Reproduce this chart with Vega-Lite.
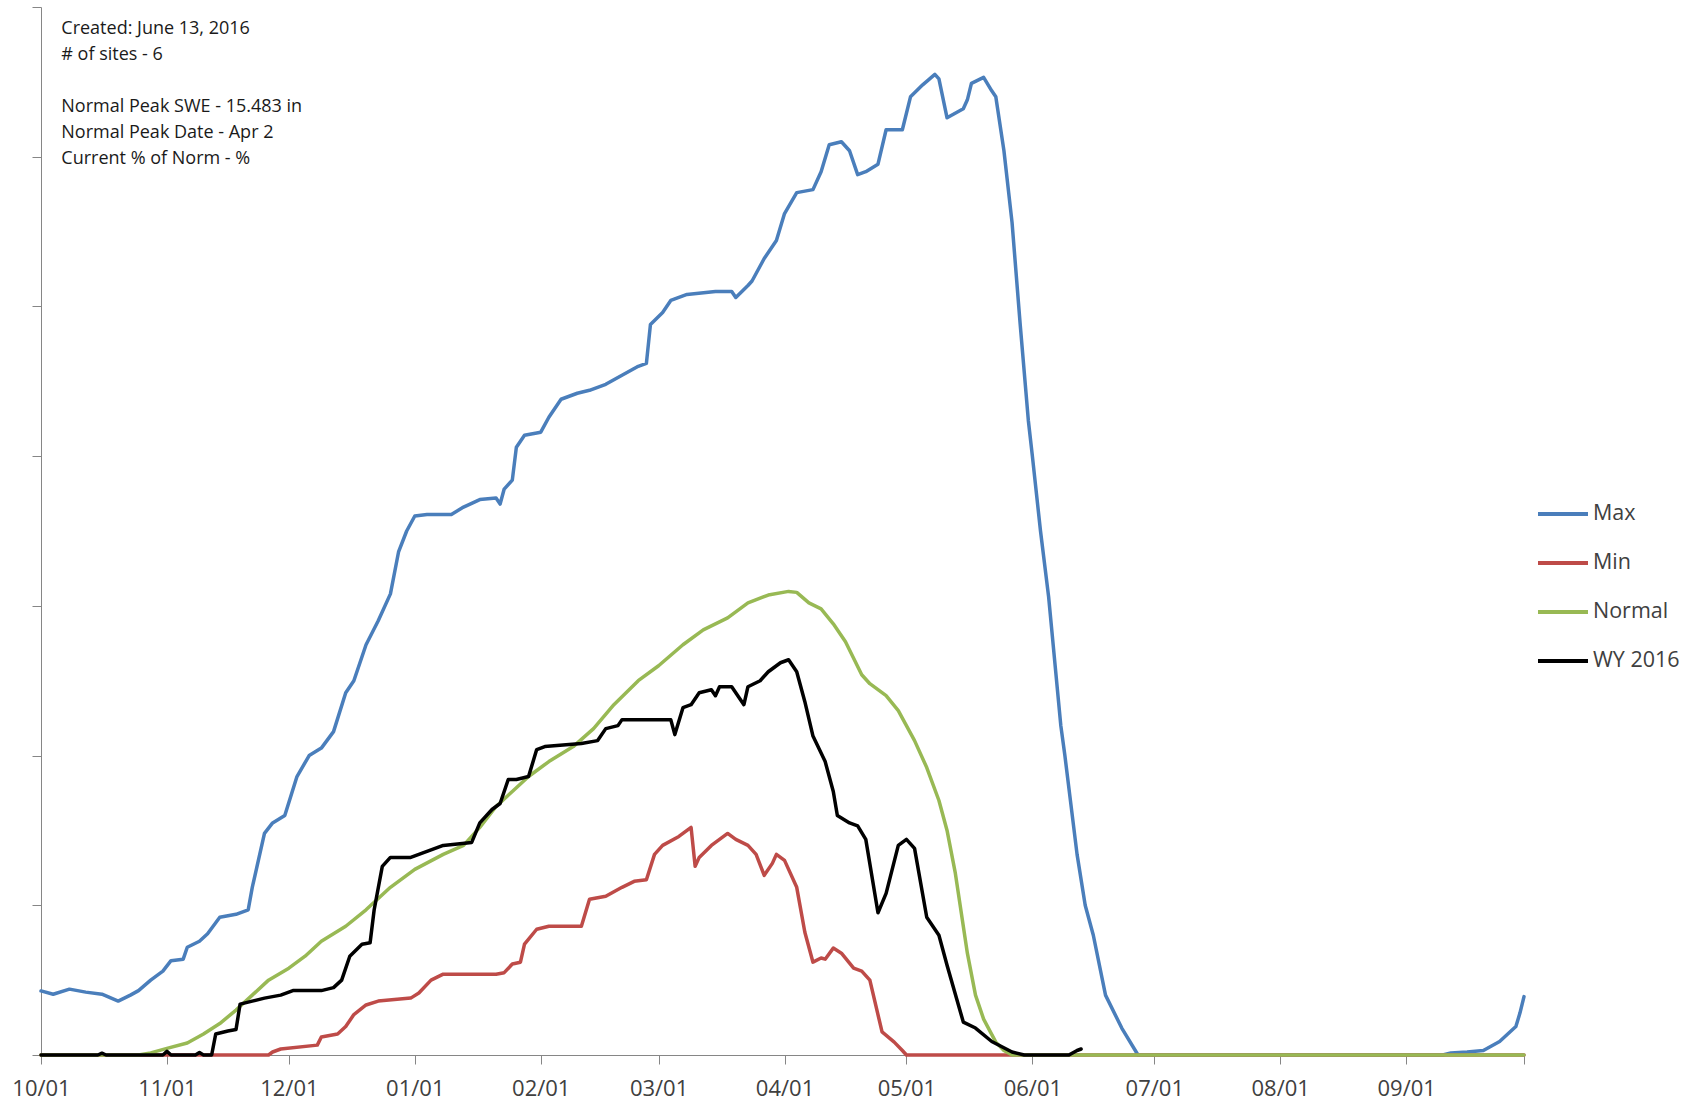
{
"$schema": "https://vega.github.io/schema/vega-lite/v6.json",
"width": 1483, "height": 1048,
"autosize": {"type": "none"},
"padding": {"left": 41, "top": 7, "right": 174, "bottom": 53},
"background": "white",
"config": {"view": {"stroke": null}, "font": "Open Sans"},
"datasets": {
"notes": [
{"date": "2015-10-06", "swe": 34.28, "label": "Created: June 13, 2016"},
{"date": "2015-10-06", "swe": 33.41, "label": "# of sites - 6"},
{"date": "2015-10-06", "swe": 31.67, "label": "Normal Peak SWE - 15.483 in"},
{"date": "2015-10-06", "swe": 30.8, "label": "Normal Peak Date - Apr 2"},
{"date": "2015-10-06", "swe": 29.93, "label": "Current % of Norm - %"}
],
"swe": [
{"date":"2015-10-01","series":"Max","swe":2.14},{"date":"2015-10-04","series":"Max","swe":2.03},{"date":"2015-10-08","series":"Max","swe":2.2},{"date":"2015-10-12","series":"Max","swe":2.1},{"date":"2015-10-16","series":"Max","swe":2.03},{"date":"2015-10-20","series":"Max","swe":1.8},{"date":"2015-10-23","series":"Max","swe":2.0},{"date":"2015-10-25","series":"Max","swe":2.15},{"date":"2015-10-28","series":"Max","swe":2.5},{"date":"2015-10-31","series":"Max","swe":2.8},
{"date":"2015-11-02","series":"Max","swe":3.15},{"date":"2015-11-05","series":"Max","swe":3.2},{"date":"2015-11-06","series":"Max","swe":3.6},{"date":"2015-11-09","series":"Max","swe":3.8},{"date":"2015-11-11","series":"Max","swe":4.05},{"date":"2015-11-14","series":"Max","swe":4.6},{"date":"2015-11-18","series":"Max","swe":4.7},{"date":"2015-11-21","series":"Max","swe":4.85},{"date":"2015-11-22","series":"Max","swe":5.6},{"date":"2015-11-25","series":"Max","swe":7.4},{"date":"2015-11-27","series":"Max","swe":7.75},{"date":"2015-11-30","series":"Max","swe":8.0},
{"date":"2015-12-03","series":"Max","swe":9.3},{"date":"2015-12-06","series":"Max","swe":10.0},{"date":"2015-12-09","series":"Max","swe":10.25},{"date":"2015-12-12","series":"Max","swe":10.8},{"date":"2015-12-15","series":"Max","swe":12.1},{"date":"2015-12-17","series":"Max","swe":12.5},{"date":"2015-12-20","series":"Max","swe":13.7},{"date":"2015-12-23","series":"Max","swe":14.5},{"date":"2015-12-26","series":"Max","swe":15.4},{"date":"2015-12-28","series":"Max","swe":16.8},{"date":"2015-12-30","series":"Max","swe":17.5},
{"date":"2016-01-01","series":"Max","swe":18.0},{"date":"2016-01-04","series":"Max","swe":18.05},{"date":"2016-01-10","series":"Max","swe":18.05},{"date":"2016-01-13","series":"Max","swe":18.3},{"date":"2016-01-17","series":"Max","swe":18.55},{"date":"2016-01-21","series":"Max","swe":18.6},{"date":"2016-01-22","series":"Max","swe":18.4},{"date":"2016-01-23","series":"Max","swe":18.9},{"date":"2016-01-25","series":"Max","swe":19.2},{"date":"2016-01-26","series":"Max","swe":20.3},{"date":"2016-01-28","series":"Max","swe":20.7},
{"date":"2016-02-01","series":"Max","swe":20.8},{"date":"2016-02-03","series":"Max","swe":21.3},{"date":"2016-02-06","series":"Max","swe":21.9},{"date":"2016-02-10","series":"Max","swe":22.1},{"date":"2016-02-13","series":"Max","swe":22.2},{"date":"2016-02-17","series":"Max","swe":22.4},{"date":"2016-02-21","series":"Max","swe":22.7},{"date":"2016-02-25","series":"Max","swe":23.0},{"date":"2016-02-27","series":"Max","swe":23.1},{"date":"2016-02-28","series":"Max","swe":24.4},
{"date":"2016-03-02","series":"Max","swe":24.8},{"date":"2016-03-04","series":"Max","swe":25.2},{"date":"2016-03-08","series":"Max","swe":25.4},{"date":"2016-03-15","series":"Max","swe":25.5},{"date":"2016-03-19","series":"Max","swe":25.5},{"date":"2016-03-20","series":"Max","swe":25.3},{"date":"2016-03-23","series":"Max","swe":25.7},{"date":"2016-03-24","series":"Max","swe":25.85},{"date":"2016-03-27","series":"Max","swe":26.6},{"date":"2016-03-30","series":"Max","swe":27.2},
{"date":"2016-04-01","series":"Max","swe":28.1},{"date":"2016-04-04","series":"Max","swe":28.8},{"date":"2016-04-08","series":"Max","swe":28.9},{"date":"2016-04-10","series":"Max","swe":29.5},{"date":"2016-04-12","series":"Max","swe":30.4},{"date":"2016-04-15","series":"Max","swe":30.5},{"date":"2016-04-17","series":"Max","swe":30.2},{"date":"2016-04-19","series":"Max","swe":29.4},{"date":"2016-04-21","series":"Max","swe":29.5},{"date":"2016-04-24","series":"Max","swe":29.75},{"date":"2016-04-26","series":"Max","swe":30.9},{"date":"2016-04-30","series":"Max","swe":30.9},
{"date":"2016-05-02","series":"Max","swe":32.0},{"date":"2016-05-05","series":"Max","swe":32.4},{"date":"2016-05-08","series":"Max","swe":32.75},{"date":"2016-05-09","series":"Max","swe":32.6},{"date":"2016-05-11","series":"Max","swe":31.3},{"date":"2016-05-15","series":"Max","swe":31.6},{"date":"2016-05-16","series":"Max","swe":31.9},{"date":"2016-05-17","series":"Max","swe":32.45},{"date":"2016-05-20","series":"Max","swe":32.65},{"date":"2016-05-22","series":"Max","swe":32.2},{"date":"2016-05-23","series":"Max","swe":32.0},{"date":"2016-05-25","series":"Max","swe":30.2},{"date":"2016-05-27","series":"Max","swe":27.8},{"date":"2016-05-29","series":"Max","swe":24.4},{"date":"2016-05-31","series":"Max","swe":21.2},
{"date":"2016-06-01","series":"Max","swe":20.0},{"date":"2016-06-03","series":"Max","swe":17.5},{"date":"2016-06-05","series":"Max","swe":15.3},{"date":"2016-06-08","series":"Max","swe":11.0},{"date":"2016-06-09","series":"Max","swe":10.0},{"date":"2016-06-12","series":"Max","swe":6.7},{"date":"2016-06-14","series":"Max","swe":5.0},{"date":"2016-06-16","series":"Max","swe":4.0},{"date":"2016-06-19","series":"Max","swe":2.0},{"date":"2016-06-23","series":"Max","swe":0.9},{"date":"2016-06-27","series":"Max","swe":0},
{"date":"2016-09-10","series":"Max","swe":0},{"date":"2016-09-12","series":"Max","swe":0.07},{"date":"2016-09-16","series":"Max","swe":0.1},{"date":"2016-09-20","series":"Max","swe":0.15},{"date":"2016-09-22","series":"Max","swe":0.3},{"date":"2016-09-24","series":"Max","swe":0.45},{"date":"2016-09-26","series":"Max","swe":0.7},{"date":"2016-09-28","series":"Max","swe":0.95},{"date":"2016-09-29","series":"Max","swe":1.4},{"date":"2016-09-30","series":"Max","swe":1.95},

{"date":"2015-10-01","series":"Min","swe":0},{"date":"2015-11-26","series":"Min","swe":0},{"date":"2015-11-27","series":"Min","swe":0.1},{"date":"2015-11-29","series":"Min","swe":0.2},{"date":"2015-12-08","series":"Min","swe":0.33},{"date":"2015-12-09","series":"Min","swe":0.6},{"date":"2015-12-13","series":"Min","swe":0.7},{"date":"2015-12-15","series":"Min","swe":0.95},{"date":"2015-12-17","series":"Min","swe":1.35},{"date":"2015-12-20","series":"Min","swe":1.67},{"date":"2015-12-23","series":"Min","swe":1.8},{"date":"2015-12-31","series":"Min","swe":1.9},
{"date":"2016-01-02","series":"Min","swe":2.07},{"date":"2016-01-05","series":"Min","swe":2.5},{"date":"2016-01-08","series":"Min","swe":2.7},{"date":"2016-01-21","series":"Min","swe":2.7},{"date":"2016-01-23","series":"Min","swe":2.75},{"date":"2016-01-25","series":"Min","swe":3.04},{"date":"2016-01-27","series":"Min","swe":3.1},{"date":"2016-01-28","series":"Min","swe":3.7},{"date":"2016-01-31","series":"Min","swe":4.2},
{"date":"2016-02-03","series":"Min","swe":4.3},{"date":"2016-02-11","series":"Min","swe":4.3},{"date":"2016-02-13","series":"Min","swe":5.2},{"date":"2016-02-17","series":"Min","swe":5.3},{"date":"2016-02-21","series":"Min","swe":5.6},{"date":"2016-02-24","series":"Min","swe":5.8},{"date":"2016-02-27","series":"Min","swe":5.85},{"date":"2016-02-29","series":"Min","swe":6.7},
{"date":"2016-03-02","series":"Min","swe":7.0},{"date":"2016-03-06","series":"Min","swe":7.3},{"date":"2016-03-07","series":"Min","swe":7.4},{"date":"2016-03-09","series":"Min","swe":7.6},{"date":"2016-03-10","series":"Min","swe":6.3},{"date":"2016-03-11","series":"Min","swe":6.6},{"date":"2016-03-14","series":"Min","swe":7.0},{"date":"2016-03-16","series":"Min","swe":7.2},{"date":"2016-03-18","series":"Min","swe":7.4},{"date":"2016-03-20","series":"Min","swe":7.2},{"date":"2016-03-23","series":"Min","swe":7.0},{"date":"2016-03-25","series":"Min","swe":6.7},{"date":"2016-03-27","series":"Min","swe":6.0},{"date":"2016-03-29","series":"Min","swe":6.4},{"date":"2016-03-30","series":"Min","swe":6.7},
{"date":"2016-04-01","series":"Min","swe":6.5},{"date":"2016-04-04","series":"Min","swe":5.6},{"date":"2016-04-06","series":"Min","swe":4.1},{"date":"2016-04-08","series":"Min","swe":3.1},{"date":"2016-04-10","series":"Min","swe":3.24},{"date":"2016-04-11","series":"Min","swe":3.2},{"date":"2016-04-13","series":"Min","swe":3.57},{"date":"2016-04-15","series":"Min","swe":3.4},{"date":"2016-04-18","series":"Min","swe":2.9},{"date":"2016-04-20","series":"Min","swe":2.8},{"date":"2016-04-22","series":"Min","swe":2.5},{"date":"2016-04-25","series":"Min","swe":0.77},{"date":"2016-04-28","series":"Min","swe":0.43},{"date":"2016-04-30","series":"Min","swe":0.15},{"date":"2016-05-01","series":"Min","swe":0},{"date":"2016-09-30","series":"Min","swe":0},

{"date":"2015-10-01","series":"Normal","swe":0},{"date":"2015-10-25","series":"Normal","swe":0},{"date":"2015-10-28","series":"Normal","swe":0.07},{"date":"2015-11-01","series":"Normal","swe":0.22},{"date":"2015-11-06","series":"Normal","swe":0.4},{"date":"2015-11-10","series":"Normal","swe":0.7},{"date":"2015-11-14","series":"Normal","swe":1.05},{"date":"2015-11-18","series":"Normal","swe":1.5},{"date":"2015-11-22","series":"Normal","swe":2.0},{"date":"2015-11-26","series":"Normal","swe":2.5},
{"date":"2015-12-01","series":"Normal","swe":2.9},{"date":"2015-12-05","series":"Normal","swe":3.3},{"date":"2015-12-09","series":"Normal","swe":3.8},{"date":"2015-12-15","series":"Normal","swe":4.3},{"date":"2015-12-20","series":"Normal","swe":4.85},{"date":"2015-12-26","series":"Normal","swe":5.6},
{"date":"2016-01-01","series":"Normal","swe":6.2},{"date":"2016-01-08","series":"Normal","swe":6.7},{"date":"2016-01-13","series":"Normal","swe":7.0},{"date":"2016-01-17","series":"Normal","swe":7.6},{"date":"2016-01-21","series":"Normal","swe":8.3},{"date":"2016-01-25","series":"Normal","swe":8.8},{"date":"2016-01-29","series":"Normal","swe":9.3},
{"date":"2016-02-03","series":"Normal","swe":9.8},{"date":"2016-02-09","series":"Normal","swe":10.3},{"date":"2016-02-14","series":"Normal","swe":10.9},{"date":"2016-02-19","series":"Normal","swe":11.7},{"date":"2016-02-25","series":"Normal","swe":12.5},
{"date":"2016-03-01","series":"Normal","swe":13.0},{"date":"2016-03-07","series":"Normal","swe":13.7},{"date":"2016-03-12","series":"Normal","swe":14.2},{"date":"2016-03-18","series":"Normal","swe":14.6},{"date":"2016-03-23","series":"Normal","swe":15.1},{"date":"2016-03-28","series":"Normal","swe":15.36},
{"date":"2016-04-02","series":"Normal","swe":15.483},{"date":"2016-04-04","series":"Normal","swe":15.45},{"date":"2016-04-07","series":"Normal","swe":15.1},{"date":"2016-04-10","series":"Normal","swe":14.9},{"date":"2016-04-13","series":"Normal","swe":14.4},{"date":"2016-04-16","series":"Normal","swe":13.8},{"date":"2016-04-20","series":"Normal","swe":12.7},{"date":"2016-04-22","series":"Normal","swe":12.4},{"date":"2016-04-26","series":"Normal","swe":12.0},{"date":"2016-04-29","series":"Normal","swe":11.5},
{"date":"2016-05-03","series":"Normal","swe":10.5},{"date":"2016-05-06","series":"Normal","swe":9.6},{"date":"2016-05-09","series":"Normal","swe":8.5},{"date":"2016-05-11","series":"Normal","swe":7.5},{"date":"2016-05-13","series":"Normal","swe":6.1},{"date":"2016-05-16","series":"Normal","swe":3.4},{"date":"2016-05-18","series":"Normal","swe":2.0},{"date":"2016-05-20","series":"Normal","swe":1.2},{"date":"2016-05-23","series":"Normal","swe":0.43},{"date":"2016-05-25","series":"Normal","swe":0.15},{"date":"2016-05-27","series":"Normal","swe":0},{"date":"2016-09-30","series":"Normal","swe":0},

{"date":"2015-10-01","series":"WY 2016","swe":0},{"date":"2015-10-15","series":"WY 2016","swe":0},{"date":"2015-10-16","series":"WY 2016","swe":0.06},{"date":"2015-10-17","series":"WY 2016","swe":0},{"date":"2015-10-31","series":"WY 2016","swe":0},{"date":"2015-11-01","series":"WY 2016","swe":0.12},{"date":"2015-11-02","series":"WY 2016","swe":0},{"date":"2015-11-08","series":"WY 2016","swe":0},{"date":"2015-11-09","series":"WY 2016","swe":0.08},{"date":"2015-11-10","series":"WY 2016","swe":0},{"date":"2015-11-12","series":"WY 2016","swe":0},{"date":"2015-11-13","series":"WY 2016","swe":0.7},{"date":"2015-11-16","series":"WY 2016","swe":0.8},{"date":"2015-11-18","series":"WY 2016","swe":0.85},{"date":"2015-11-19","series":"WY 2016","swe":1.7},{"date":"2015-11-22","series":"WY 2016","swe":1.8},{"date":"2015-11-25","series":"WY 2016","swe":1.9},{"date":"2015-11-29","series":"WY 2016","swe":2.0},
{"date":"2015-12-02","series":"WY 2016","swe":2.15},{"date":"2015-12-09","series":"WY 2016","swe":2.15},{"date":"2015-12-12","series":"WY 2016","swe":2.25},{"date":"2015-12-14","series":"WY 2016","swe":2.5},{"date":"2015-12-16","series":"WY 2016","swe":3.3},{"date":"2015-12-19","series":"WY 2016","swe":3.7},{"date":"2015-12-21","series":"WY 2016","swe":3.75},{"date":"2015-12-22","series":"WY 2016","swe":4.85},{"date":"2015-12-24","series":"WY 2016","swe":6.3},{"date":"2015-12-26","series":"WY 2016","swe":6.6},{"date":"2015-12-31","series":"WY 2016","swe":6.6},
{"date":"2016-01-02","series":"WY 2016","swe":6.7},{"date":"2016-01-05","series":"WY 2016","swe":6.85},{"date":"2016-01-08","series":"WY 2016","swe":7.0},{"date":"2016-01-15","series":"WY 2016","swe":7.1},{"date":"2016-01-17","series":"WY 2016","swe":7.75},{"date":"2016-01-20","series":"WY 2016","swe":8.2},{"date":"2016-01-22","series":"WY 2016","swe":8.4},{"date":"2016-01-24","series":"WY 2016","swe":9.2},{"date":"2016-01-26","series":"WY 2016","swe":9.2},{"date":"2016-01-29","series":"WY 2016","swe":9.3},{"date":"2016-01-31","series":"WY 2016","swe":10.2},
{"date":"2016-02-02","series":"WY 2016","swe":10.3},{"date":"2016-02-11","series":"WY 2016","swe":10.4},{"date":"2016-02-15","series":"WY 2016","swe":10.5},{"date":"2016-02-17","series":"WY 2016","swe":10.9},{"date":"2016-02-20","series":"WY 2016","swe":11.0},{"date":"2016-02-21","series":"WY 2016","swe":11.2},
{"date":"2016-03-04","series":"WY 2016","swe":11.2},{"date":"2016-03-05","series":"WY 2016","swe":10.7},{"date":"2016-03-07","series":"WY 2016","swe":11.6},{"date":"2016-03-09","series":"WY 2016","swe":11.7},{"date":"2016-03-11","series":"WY 2016","swe":12.1},{"date":"2016-03-14","series":"WY 2016","swe":12.2},{"date":"2016-03-15","series":"WY 2016","swe":12.0},{"date":"2016-03-16","series":"WY 2016","swe":12.3},{"date":"2016-03-19","series":"WY 2016","swe":12.3},{"date":"2016-03-20","series":"WY 2016","swe":12.1},{"date":"2016-03-22","series":"WY 2016","swe":11.7},{"date":"2016-03-23","series":"WY 2016","swe":12.3},{"date":"2016-03-26","series":"WY 2016","swe":12.5},{"date":"2016-03-28","series":"WY 2016","swe":12.8},{"date":"2016-03-31","series":"WY 2016","swe":13.1},
{"date":"2016-04-02","series":"WY 2016","swe":13.2},{"date":"2016-04-04","series":"WY 2016","swe":12.8},{"date":"2016-04-06","series":"WY 2016","swe":11.8},{"date":"2016-04-08","series":"WY 2016","swe":10.65},{"date":"2016-04-11","series":"WY 2016","swe":9.8},{"date":"2016-04-13","series":"WY 2016","swe":8.8},{"date":"2016-04-14","series":"WY 2016","swe":8.0},{"date":"2016-04-17","series":"WY 2016","swe":7.75},{"date":"2016-04-19","series":"WY 2016","swe":7.65},{"date":"2016-04-21","series":"WY 2016","swe":7.2},{"date":"2016-04-24","series":"WY 2016","swe":4.75},{"date":"2016-04-26","series":"WY 2016","swe":5.4},{"date":"2016-04-29","series":"WY 2016","swe":7.0},
{"date":"2016-05-01","series":"WY 2016","swe":7.2},{"date":"2016-05-03","series":"WY 2016","swe":6.9},{"date":"2016-05-06","series":"WY 2016","swe":4.6},{"date":"2016-05-09","series":"WY 2016","swe":4.0},{"date":"2016-05-11","series":"WY 2016","swe":3.0},{"date":"2016-05-15","series":"WY 2016","swe":1.1},{"date":"2016-05-18","series":"WY 2016","swe":0.9},{"date":"2016-05-22","series":"WY 2016","swe":0.45},{"date":"2016-05-27","series":"WY 2016","swe":0.1},{"date":"2016-05-30","series":"WY 2016","swe":0},{"date":"2016-06-10","series":"WY 2016","swe":0},{"date":"2016-06-12","series":"WY 2016","swe":0.15},{"date":"2016-06-13","series":"WY 2016","swe":0.2}
]
},
"layer": [
{
"data": {"name": "swe"},
"mark": {"type": "line", "strokeWidth": 3.5, "strokeJoin": "round", "strokeCap": "round"},
"encoding": {
"x": {"field": "date", "type": "temporal",
"scale": {"type": "utc", "domain": [{"year": 2015, "month": 10, "date": 1, "utc": true}, {"year": 2016, "month": 9, "date": 30, "utc": true}]},
"axis": {"title": null, "format": "%m/%d",
"values": [{"year": 2015, "month": 10, "date": 1, "utc": true}, {"year": 2015, "month": 11, "date": 1, "utc": true}, {"year": 2015, "month": 12, "date": 1, "utc": true}, {"year": 2016, "month": 1, "date": 1, "utc": true}, {"year": 2016, "month": 2, "date": 1, "utc": true}, {"year": 2016, "month": 3, "date": 1, "utc": true}, {"year": 2016, "month": 4, "date": 1, "utc": true}, {"year": 2016, "month": 5, "date": 1, "utc": true}, {"year": 2016, "month": 6, "date": 1, "utc": true}, {"year": 2016, "month": 7, "date": 1, "utc": true}, {"year": 2016, "month": 8, "date": 1, "utc": true}, {"year": 2016, "month": 9, "date": 1, "utc": true}, {"year": 2016, "month": 9, "date": 30, "utc": true}],
"labelExpr": "datum.value > 1474000000000 ? '' : datum.label",
"grid": false, "domainColor": "#868686", "tickColor": "#868686", "tickSize": 9,
"labelFontSize": 22, "labelFont": "Open Sans", "labelColor": "#404040", "labelPadding": 14,
"labelFlush": false, "labelOverlap": false}},
"y": {"field": "swe", "type": "quantitative",
"scale": {"domain": [0, 35], "nice": false, "zero": true},
"axis": {"title": null, "labels": false, "values": [0, 5, 10, 15, 20, 25, 30, 35], "grid": false, "tickSize": 9, "domainColor": "#868686", "tickColor": "#868686"}},
"color": {"field": "series", "type": "nominal",
"scale": {"domain": ["Max", "Min", "Normal", "WY 2016"], "range": ["#4A7EBB", "#BE4B48", "#98B954", "#000000"]},
"legend": {"title": null, "orient": "none", "legendX": 1495, "legendY": 480, "symbolType": "stroke", "symbolSize": 2500, "symbolStrokeWidth": 4, "labelFontSize": 21.5, "labelFont": "Open Sans", "labelColor": "#404040", "rowPadding": 11, "labelOffset": 3, "direction": "vertical"}}
}
},
{
"data": {"name": "notes"},
"mark": {"type": "text", "align": "left", "baseline": "middle", "fontSize": 18, "font": "Open Sans", "color": "#1a1a1a"},
"encoding": {
"x": {"field": "date", "type": "temporal"},
"y": {"field": "swe", "type": "quantitative"},
"text": {"field": "label"}
}
}
]
}
